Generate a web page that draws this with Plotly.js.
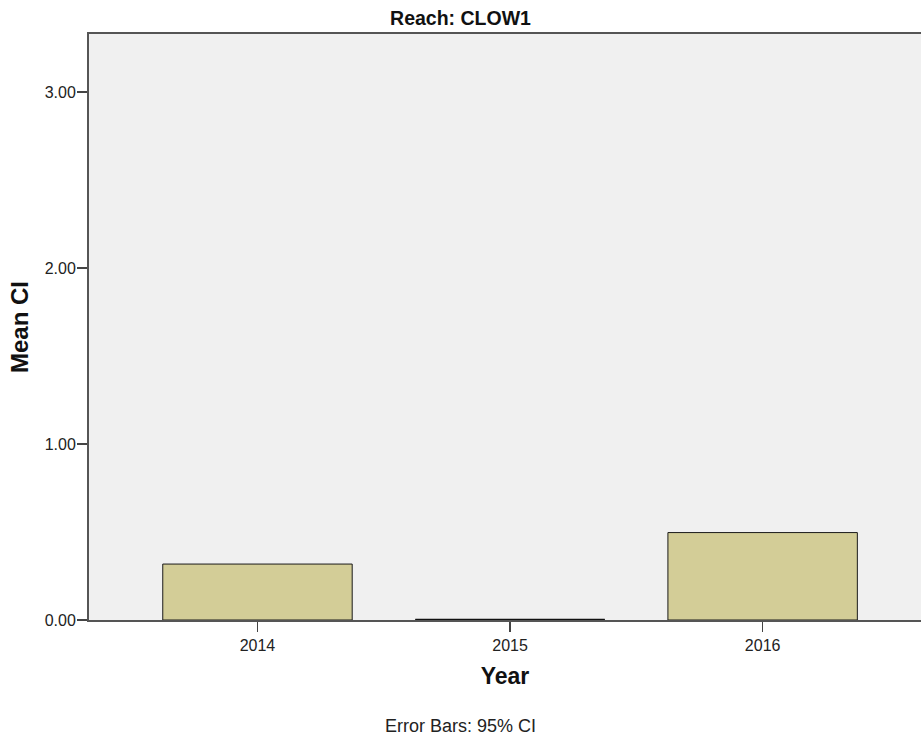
<!DOCTYPE html>
<html>
<head>
<meta charset="utf-8">
<script src="https://cdn.plot.ly/plotly-3.0.1.min.js"></script>
<style>html,body{margin:0;padding:0;background:#fff;}</style>
</head>
<body>
<div id="chart" style="width:921px;height:740px;"></div>
<script>
var years = ["2014", "2015", "2016"];
var meanCI = [0.318, 0.0, 0.497];
var yTicks = [0, 1, 2, 3];
var yTickText = ["0.00", "1.00", "2.00", "3.00"];

var xPos = years.map(function(_, i){ return i; });
var barWidth = 0.75;

var traces = [{
  type: "bar",
  x: xPos,
  y: meanCI,
  width: barWidth,
  marker: {color: "#d3cd97", line: {color: "#1a1a1a", width: 1}},
  hoverinfo: "skip"
}, {
  // zero-height bar outline for 2015
  type: "scatter",
  mode: "lines",
  x: [xPos[1] - barWidth / 2, xPos[1] + barWidth / 2],
  y: [meanCI[1], meanCI[1]],
  line: {color: "#111", width: 2.5},
  hoverinfo: "skip"
}];

var layout = {
  width: 921, height: 740,
  margin: {l: 89, r: 0, t: 34, b: 120},
  paper_bgcolor: "#ffffff",
  plot_bgcolor: "#f0f0f0",
  showlegend: false,
  font: {family: "Liberation Sans, Arial, sans-serif", color: "#222", size: 16},
  title: {text: "<b>Reach: CLOW1</b>", x: 0.5, xref: "container", y: 0.976, yanchor: "middle",
          font: {family: "Liberation Sans, Arial", size: 19.5, color: "#111"}},
  xaxis: {
    range: [-0.667, 2.627],
    tickvals: xPos, ticktext: years,
    showline: true, linecolor: "#555", linewidth: 2, mirror: true,
    ticks: "outside", ticklen: 10, tickwidth: 1.5, tickcolor: "#444",
    showgrid: false, zeroline: false,
    tickfont: {size: 16, color: "#222"},
    title: {text: "<b>Year</b>", standoff: 15, font: {size: 23, color: "#111"}}
  },
  yaxis: {
    range: [0, 3.331],
    tickvals: yTicks, ticktext: yTickText,
    showline: true, linecolor: "#555", linewidth: 2,
    ticks: "outside", ticklen: 10, tickwidth: 1.5, tickcolor: "#444",
    ticklabelstandoff: -2,
    showgrid: false, zeroline: false,
    tickfont: {size: 16, color: "#222"},
    title: {text: "<b>Mean CI</b>", standoff: 9, font: {size: 24, color: "#111"}}
  },
  annotations: [{
    text: "Error Bars: 95% CI",
    xref: "paper", yref: "paper",
    x: 0.446, xanchor: "center",
    y: -0.181, yanchor: "middle",
    showarrow: false,
    font: {size: 18, color: "#222"}
  }]
};

Plotly.newPlot("chart", traces, layout, {displayModeBar: false, staticPlot: true});
</script>
</body>
</html>
